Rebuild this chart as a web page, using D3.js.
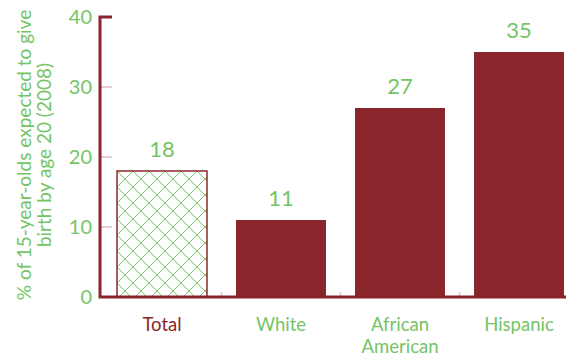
<!DOCTYPE html>
<html>
<meta charset="utf-8">
<head>
<style>
body { margin: 0; background: #fff; }
svg text { font-family: Lato, "Open Sans", sans-serif; }
.tick line { opacity: 0; }
path.domain { opacity: 0; }
</style>
</head>
<body>
<svg width="569" height="357"></svg>
<script src="https://d3js.org/d3.v7.min.js"></script>
<script>
var categories = ["Total", "White", "African American", "Hispanic"];
var values = [18, 11, 27, 35];
var yTicks = [0, 10, 20, 30, 40];
var yTitle = ["% of 15-year-olds expected to give", "birth by age 20 (2008)"];

var red = "#8a252b", green = "#74c466", pink = "#e8cdd0";

var svg = d3.select("svg");
var x = d3.scaleBand().domain(categories).range([100, 581])
  .paddingInner(0.244).paddingOuter(0.143);
var y = d3.scaleLinear().domain([0, 40]).range([297, 17]);

// hatch pattern for the total bar
var defs = svg.append("defs");
var pat = defs.append("pattern")
  .attr("id", "hatch")
  .attr("patternUnits", "userSpaceOnUse")
  .attr("width", 16).attr("height", 16)
  .attr("x", x("Total")).attr("y", y(18));
pat.append("rect").attr("width", 16).attr("height", 16).attr("fill", "#fff");
pat.append("path")
  .attr("d", "M0,0L16,16M16,0L0,16M-1,15L1,17M15,-1L17,1M15,17L17,15M-1,1L1,-1")
  .attr("stroke", green).attr("stroke-width", 1).attr("fill", "none");

// y axis labels
var yAxis = d3.axisLeft(y).tickValues(yTicks).tickSize(0).tickPadding(8);
var ga = svg.append("g").attr("transform", "translate(100,0)").call(yAxis);
ga.selectAll("text")
  .style("font-size", "20px").style("fill", green)
  .style("font-family", "Lato, sans-serif");

// small gridline ticks
svg.append("g").selectAll("line")
  .data(yTicks.slice(1, 4)).enter().append("line")
  .attr("x1", 100).attr("x2", 112)
  .attr("y1", function(d) { return y(d); })
  .attr("y2", function(d) { return y(d); })
  .attr("stroke", pink).attr("stroke-width", 2);

// bars
svg.append("g").selectAll("rect")
  .data(values).enter().append("rect")
  .attr("x", function(d, i) { return x(categories[i]); })
  .attr("width", x.bandwidth())
  .attr("y", function(d) { return y(d); })
  .attr("height", function(d) { return y(0) - y(d); })
  .attr("fill", function(d, i) { return i == 0 ? "url(#hatch)" : red; })
  .attr("stroke", function(d, i) { return i == 0 ? red : "none"; })
  .attr("stroke-width", 1.5);

// band boundary ticks
var bounds = categories.slice(1).map(function(c) { return x(c) - x.step() * x.paddingInner() / 2; });
svg.append("g").selectAll("line")
  .data(bounds).enter().append("line")
  .attr("x1", function(d) { return d; }).attr("x2", function(d) { return d; })
  .attr("y1", 292).attr("y2", 297)
  .attr("stroke", pink).attr("stroke-width", 2);

// axis lines
svg.append("path")
  .attr("d", "M112," + y(40) + "H100V" + y(0) + "H566")
  .attr("fill", "none").attr("stroke", red).attr("stroke-width", 3);

// value labels
svg.append("g").selectAll("text")
  .data(values).enter().append("text")
  .attr("x", function(d, i) { return x(categories[i]) + x.bandwidth() / 2; })
  .attr("y", function(d) { return y(d) - 14; })
  .attr("text-anchor", "middle")
  .style("font-size", "22px").style("fill", green)
  .text(function(d) { return d; });

// category labels
var cl = svg.append("g").selectAll("text")
  .data(categories).enter().append("text")
  .attr("x", function(d) { return x(d) + x.bandwidth() / 2; })
  .attr("y", 331)
  .attr("text-anchor", "middle")
  .style("font-size", "18.5px")
  .style("fill", function(d, i) { return i == 0 ? red : green; });
cl.each(function(d) {
  var words = d.split(" ");
  var t = d3.select(this);
  words.forEach(function(w, j) {
    t.append("tspan").attr("x", t.attr("x")).attr("dy", j ? 22 : 0).text(w);
  });
});

// y title
var tt = svg.append("text")
  .attr("transform", "translate(0,155) rotate(-90)")
  .attr("text-anchor", "middle")
  .style("font-size", "19px").style("fill", green);
yTitle.forEach(function(s, j) {
  tt.append("tspan").attr("x", 0).attr("y", j ? 51 : 31).text(s);
});
</script>
</body>
</html>
